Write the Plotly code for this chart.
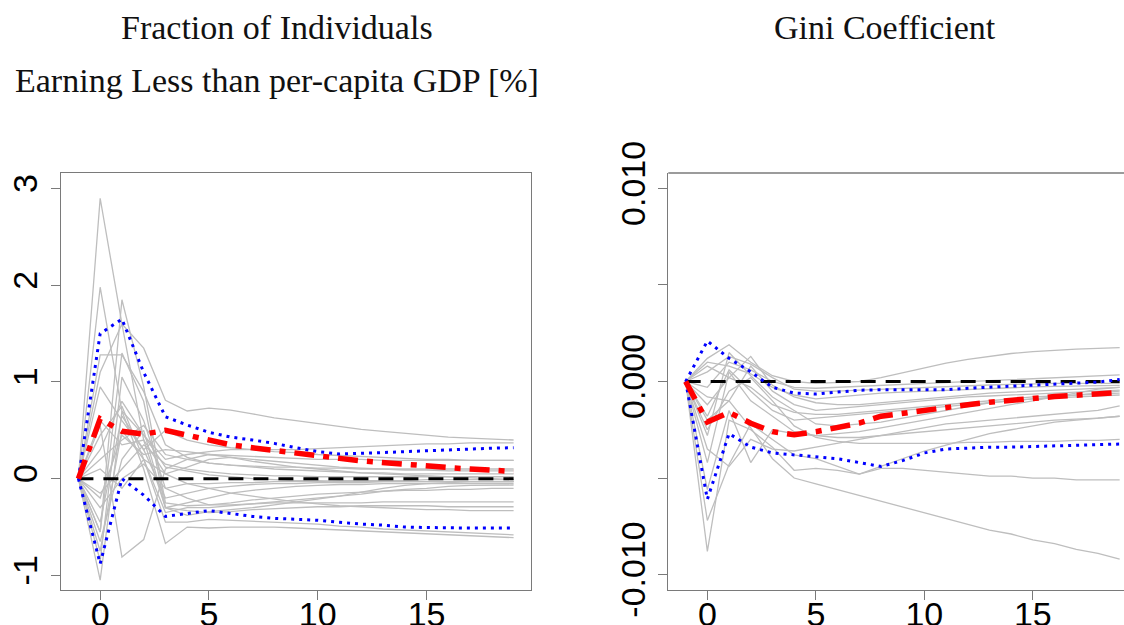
import plotly.graph_objects as go

# ---------------- data ----------------
horizon = list(range(-1, 20))

# Left panel: Fraction of individuals earning less than per-capita GDP [%]
frac_gray = [
    [0, 2.90, 1.60, 1.35, 0.81, 0.70, 0.73, 0.71, 0.67, 0.63, 0.60, 0.57, 0.54, 0.51, 0.49, 0.47, 0.45, 0.43, 0.42, 0.41, 0.40],
    [0, 1.98, 0.70, 0.45, 0.20, 0.25, 0.28, 0.30, 0.30, 0.30, 0.30, 0.31, 0.32, 0.33, 0.34, 0.35, 0.36, 0.36, 0.37, 0.37, 0.37],
    [0, 1.28, 1.28, 0.90, 0.35, 0.22, 0.16, 0.14, 0.13, 0.12, 0.12, 0.11, 0.11, 0.10, 0.10, 0.10, 0.10, 0.10, 0.10, 0.10, 0.10],
    [0, 0.55, -0.81, -0.63, 0.10, 0.20, 0.25, 0.24, 0.23, 0.22, 0.21, 0.20, 0.20, 0.20, 0.19, 0.19, 0.19, 0.19, 0.19, 0.19, 0.19],
    [0, -0.55, 1.85, 0.95, -0.25, -0.28, -0.27, -0.25, -0.22, -0.20, -0.18, -0.16, -0.15, -0.14, -0.13, -0.12, -0.12, -0.11, -0.11, -0.10, -0.10],
    [0, 1.10, 1.60, 0.40, -0.30, -0.33, -0.35, -0.34, -0.32, -0.31, -0.30, -0.29, -0.29, -0.28, -0.28, -0.28, -0.28, -0.29, -0.29, -0.29, -0.29],
    [0, -1.05, 0.70, 0.10, -0.67, -0.50, -0.51, -0.50, -0.50, -0.50, -0.51, -0.52, -0.53, -0.54, -0.55, -0.56, -0.57, -0.58, -0.59, -0.60, -0.61],
    [0, -0.75, 0.50, 0.20, -0.45, -0.45, -0.42, -0.43, -0.44, -0.45, -0.46, -0.47, -0.49, -0.50, -0.52, -0.53, -0.54, -0.55, -0.56, -0.57, -0.58],
    [0, 0.95, 0.60, 0.30, 0.50, 0.40, 0.35, 0.32, 0.30, 0.28, 0.27, 0.25, 0.24, 0.23, 0.22, 0.21, 0.20, 0.20, 0.19, 0.19, 0.19],
    [0, 0.45, 0.75, 0.20, 0.05, 0.12, 0.20, 0.22, 0.20, 0.18, 0.16, 0.14, 0.12, 0.11, 0.10, 0.09, 0.09, 0.08, 0.08, 0.08, 0.08],
    [0, 0.20, 0.40, 0.55, 0.25, 0.20, 0.16, 0.14, 0.12, 0.10, 0.09, 0.08, 0.07, 0.06, 0.06, 0.05, 0.05, 0.05, 0.05, 0.05, 0.05],
    [0, -0.15, 0.10, 0.35, 0.15, 0.10, 0.07, 0.05, 0.04, 0.03, 0.03, 0.02, 0.02, 0.02, 0.02, 0.02, 0.02, 0.02, 0.02, 0.02, 0.02],
    [0, -0.30, 0.00, 0.15, -0.10, -0.05, -0.05, -0.04, -0.04, -0.03, -0.03, -0.03, -0.02, -0.02, -0.02, -0.02, -0.01, -0.01, -0.01, -0.01, -0.01],
    [0, -0.45, 0.65, 0.30, -0.20, -0.15, -0.10, -0.08, -0.06, -0.05, -0.05, -0.04, -0.04, -0.04, -0.03, -0.03, -0.03, -0.03, -0.03, -0.03, -0.03],
    [0, -0.65, 0.20, 0.50, -0.30, -0.25, -0.20, -0.15, -0.12, -0.10, -0.08, -0.07, -0.06, -0.06, -0.05, -0.05, -0.05, -0.05, -0.05, -0.05, -0.05],
    [0, 0.10, -0.10, 0.20, -0.35, -0.30, -0.30, -0.28, -0.26, -0.24, -0.22, -0.20, -0.18, -0.16, -0.13, -0.11, -0.10, -0.08, -0.07, -0.07, -0.065],
    [0, -0.85, 1.05, 0.60, -0.10, -0.20, -0.27, -0.27, -0.26, -0.25, -0.25, -0.25, -0.25, -0.25, -0.24, -0.24, -0.24, -0.24, -0.24, -0.24, -0.24],
    [0, 0.60, 0.35, 0.40, 0.05, -0.05, -0.10, -0.15, -0.18, -0.21, -0.24, -0.26, -0.28, -0.29, -0.30, -0.31, -0.32, -0.32, -0.33, -0.33, -0.33],
    [0, -0.20, 0.45, 0.25, 0.30, 0.28, 0.25, 0.22, 0.18, 0.15, 0.12, 0.10, 0.08, 0.06, 0.05, 0.04, 0.03, 0.02, 0.01, 0.00, -0.01],
    [0, 0.30, 0.80, 0.45, 0.12, 0.08, 0.04, 0.02, 0.00, -0.01, -0.02, -0.02, -0.03, -0.03, -0.03, -0.03, -0.03, -0.03, -0.03, -0.03, -0.03],
    [0, -0.55, 1.30, 0.80, -0.30, -0.38, -0.34, -0.32, -0.30, -0.27, -0.24, -0.21, -0.18, -0.14, -0.10, -0.07, -0.05, -0.04, -0.03, -0.03, -0.03],
]
frac_mean = [0, 0.62, 0.49, 0.46, 0.50, 0.45, 0.40, 0.35, 0.32, 0.29, 0.26, 0.235, 0.21, 0.185, 0.165, 0.15, 0.13, 0.115, 0.10, 0.09, 0.075]
frac_upper = [0, 1.50, 1.65, 1.10, 0.64, 0.555, 0.48, 0.43, 0.40, 0.365, 0.32, 0.28, 0.255, 0.26, 0.27, 0.28, 0.29, 0.30, 0.31, 0.315, 0.32]
frac_lower = [0, -0.88, 0.00, -0.17, -0.39, -0.36, -0.33, -0.36, -0.39, -0.41, -0.42, -0.43, -0.45, -0.47, -0.48, -0.50, -0.505, -0.51, -0.51, -0.51, -0.51]

# Right panel: Gini coefficient
gini_gray = [
    [0, 0.0012, 0.0019, 0.0010, 0.0003, 0.0000, -0.0001, -0.00005, 0.0000, 0.0002, 0.00045, 0.0007, 0.00095, 0.00115, 0.0013, 0.00145, 0.00155, 0.00162, 0.00168, 0.00172, 0.00175],
    [0, -0.0008, -0.0010, -0.0024, -0.0040, -0.0050, -0.0053, -0.0056, -0.0059, -0.0062, -0.0065, -0.0068, -0.0071, -0.0074, -0.0077, -0.0079, -0.0082, -0.0084, -0.0087, -0.0089, -0.0092],
    [0, -0.0088, -0.0020, -0.0025, -0.0034, -0.0046, -0.0045, -0.0046, -0.0048, -0.0045, -0.0045, -0.0046, -0.0047, -0.0048, -0.0049, -0.0049, -0.0050, -0.0050, -0.0051, -0.0051, -0.0051],
    [0, -0.0072, -0.0043, -0.0022, -0.0030, -0.0038, -0.0040, -0.0044, -0.0048, -0.0044, -0.0040, -0.0036, -0.0033, -0.0030, -0.0027, -0.0025, -0.0023, -0.0021, -0.0020, -0.0019, -0.0018],
    [0, -0.0056, -0.0015, -0.0042, -0.0025, -0.0027, -0.0028, -0.0029, -0.0029, -0.0028, -0.0027, -0.0026, -0.0025, -0.0024, -0.0023, -0.0022, -0.0021, -0.0020, -0.00195, -0.0019, -0.0018],
    [0, -0.0042, 0.0005, -0.0010, -0.0018, -0.0026, -0.0028, -0.0027, -0.0026, -0.0024, -0.0022, -0.0020, -0.0018, -0.0016, -0.0014, -0.0012, -0.0010, -0.0008, -0.0006, -0.0004, -0.0003],
    [0, -0.0028, 0.0015, 0.0003, -0.0008, -0.0015, -0.0022, -0.0023, -0.0022, -0.0021, -0.0019, -0.0017, -0.0015, -0.0013, -0.0011, -0.0010, -0.0009, -0.0008, -0.0007, -0.0006, -0.0005],
    [0, -0.0020, -0.0010, 0.0008, -0.0005, -0.0012, -0.0015, -0.0014, -0.0013, -0.0012, -0.0011, -0.0010, -0.0009, -0.0008, -0.00075, -0.0007, -0.00065, -0.0006, -0.00055, -0.0005, -0.00045],
    [0, 0.0010, 0.0008, 0.0004, -0.0003, -0.0007, -0.0009, -0.0008, -0.0007, -0.0006, -0.00055, -0.0005, -0.00045, -0.0004, -0.00035, -0.0003, -0.00028, -0.00025, -0.00023, -0.0002, -0.0002],
    [0, 0.0005, 0.0013, 0.0009, 0.0002, -0.0004, -0.0005, -0.0005, -0.00045, -0.0004, -0.00035, -0.0003, -0.00025, -0.0002, -0.00018, -0.00015, -0.00012, -0.0001, -0.0001, -0.0001, -0.0001],
    [0, -0.0003, 0.0010, 0.0006, 0.0000, -0.0003, -0.00035, -0.0003, -0.00025, -0.0002, -0.00015, -0.0001, -0.00005, 0.0000, 0.00005, 0.0001, 0.00015, 0.0002, 0.00025, 0.0003, 0.00034],
    [0, -0.0012, 0.0002, 0.0013, -0.0002, -0.0008, -0.0011, -0.0012, -0.0012, -0.0011, -0.0010, -0.0009, -0.0008, -0.0007, -0.0006, -0.00055, -0.0005, -0.00045, -0.0004, -0.00035, -0.0003],
    [0, -0.0018, 0.0006, -0.0005, -0.0015, -0.0020, -0.0019, -0.0018, -0.0017, -0.0016, -0.0015, -0.0014, -0.0013, -0.0012, -0.0011, -0.0010, -0.0009, -0.00085, -0.0008, -0.00075, -0.0007],
    [0, 0.0008, 0.0002, -0.0003, -0.0012, -0.0016, -0.0017, -0.0017, -0.0016, -0.0015, -0.0014, -0.0013, -0.0012, -0.0011, -0.0010, -0.0009, -0.0008, -0.00075, -0.0007, -0.00065, -0.0006],
    [0, -0.0025, -0.0005, 0.0002, -0.0010, -0.0023, -0.0029, -0.0031, -0.0032, -0.0032, -0.0032, -0.0032, -0.0032, -0.00315, -0.00315, -0.0031, -0.0031, -0.0031, -0.00305, -0.00305, -0.0030],
    [0, -0.0035, -0.0044, -0.0030, -0.0035, -0.0036, -0.0034, -0.0032, -0.0030, -0.0028, -0.0026, -0.0024, -0.0022, -0.0021, -0.0020, -0.0019, -0.0018, -0.0017, -0.0016, -0.0015, -0.00126],
]
gini_mean = [0, -0.0021, -0.0016, -0.00216, -0.0026, -0.00276, -0.0026, -0.00236, -0.00216, -0.0018, -0.00164, -0.00147, -0.00133, -0.0012, -0.00107, -0.00095, -0.00086, -0.00078, -0.00071, -0.00064, -0.00057]
gini_upper = [0, 0.0021, 0.0012, 0.0005, -0.0003, -0.0006, -0.00065, -0.00055, -0.00045, -0.00043, -0.00043, -0.00043, -0.00043, -0.00035, -0.0003, -0.00026, -0.0002, -0.00013, -0.00008, -0.00003, 0.0001]
gini_lower = [0, -0.0061, -0.0027, -0.0034, -0.0037, -0.0038, -0.0039, -0.0040, -0.0042, -0.0044, -0.0041, -0.0037, -0.0035, -0.00345, -0.0034, -0.0034, -0.00336, -0.00333, -0.0033, -0.00327, -0.00324]
zero_line = [0] * len(horizon)

left_title_1 = "Fraction of Individuals"
left_title_2 = "Earning Less than per-capita GDP [%]"
right_title = "Gini Coefficient"
left_yticks = [-1, 0, 1, 2, 3]
left_yticktext = ["-1", "0", "1", "2", "3"]
right_yticks = [-0.010, -0.005, 0.0, 0.005, 0.010]
right_yticktext = ["-0.010", "", "0.000", "", "0.010"]
xticks = [0, 5, 10, 15]
xticktext = ["0", "5", "10", "15"]

# ---------------- figure ----------------
W, H = 1124, 625
GRAY = "#bebebe"
fig = go.Figure()


def add_panel(gray, mean, upper, lower, xa, ya):
    for s in gray:
        fig.add_trace(go.Scatter(x=horizon, y=s, mode="lines", xaxis=xa, yaxis=ya,
                                 line=dict(color=GRAY, width=1.3), hoverinfo="skip"))
    fig.add_trace(go.Scatter(x=horizon, y=zero_line, mode="lines", xaxis=xa, yaxis=ya,
                             line=dict(color="black", width=3, dash="15px,10px")))
    for s in (upper, lower):
        fig.add_trace(go.Scatter(x=horizon, y=s, mode="lines", xaxis=xa, yaxis=ya,
                                 line=dict(color="blue", width=3, dash="3px,5px")))
    fig.add_trace(go.Scatter(x=horizon, y=mean, mode="lines", xaxis=xa, yaxis=ya,
                             line=dict(color="red", width=5.5, dash="20px,9px,6px,9px")))


add_panel(frac_gray, frac_mean, frac_upper, frac_lower, "x", "y")
add_panel(gini_gray, gini_mean, gini_upper, gini_lower, "x2", "y2")

tickfont = dict(family="Liberation Sans, Arial, sans-serif", size=34, color="black")
axis_common = dict(showgrid=False, zeroline=False, showline=True, linecolor="#7a7a7a", linewidth=1.3,
                   ticks="outside", ticklen=9, tickwidth=1.3, tickcolor="#7a7a7a",
                   tickfont=tickfont, automargin=False)

y_dom = [1 - 590 / H, 1 - 173 / H]
fig.update_layout(
    width=W, height=H, margin=dict(l=0, r=0, t=0, b=0),
    paper_bgcolor="white", plot_bgcolor="white", showlegend=False,
    template="none",
    xaxis=dict(domain=[61 / W, 531 / W], range=[-1.8, 19.8], tickvals=xticks, ticktext=xticktext,
               mirror=True, anchor="y", ticklabelstandoff=-15, **axis_common),
    yaxis=dict(domain=y_dom, range=[-1.151, 3.161], tickvals=left_yticks, ticktext=left_yticktext,
               tickangle=-90, mirror=True, anchor="x", **axis_common),
    xaxis2=dict(domain=[668.3 / W, 1.0], range=[-1.8, 19.2], tickvals=xticks, ticktext=xticktext,
                anchor="y2", ticklabelstandoff=-15, **axis_common),
    yaxis2=dict(domain=y_dom, range=[-0.0108, 0.0108], tickvals=right_yticks, ticktext=right_yticktext,
                tickangle=-90, anchor="x2", **axis_common),
    shapes=[dict(type="line", xref="x2 domain", yref="y2 domain", x0=0, x1=1, y0=1, y1=1,
                 line=dict(color="#7a7a7a", width=1.3))],
)

title_font = dict(family="Liberation Serif, Times New Roman, serif", size=34, color="#111111")
fig.add_annotation(text=left_title_1, x=277 / W, y=1 - 27 / H, xref="paper", yref="paper",
                   showarrow=False, font=title_font, xanchor="center", yanchor="middle")
fig.add_annotation(text=left_title_2, x=277 / W, y=1 - 80 / H, xref="paper",
                   yref="paper", showarrow=False, font=title_font, xanchor="center", yanchor="middle")
fig.add_annotation(text=right_title, x=885 / W, y=1 - 27 / H, xref="paper", yref="paper",
                   showarrow=False, font=title_font, xanchor="center", yanchor="middle")

fig.write_html("out.html")
